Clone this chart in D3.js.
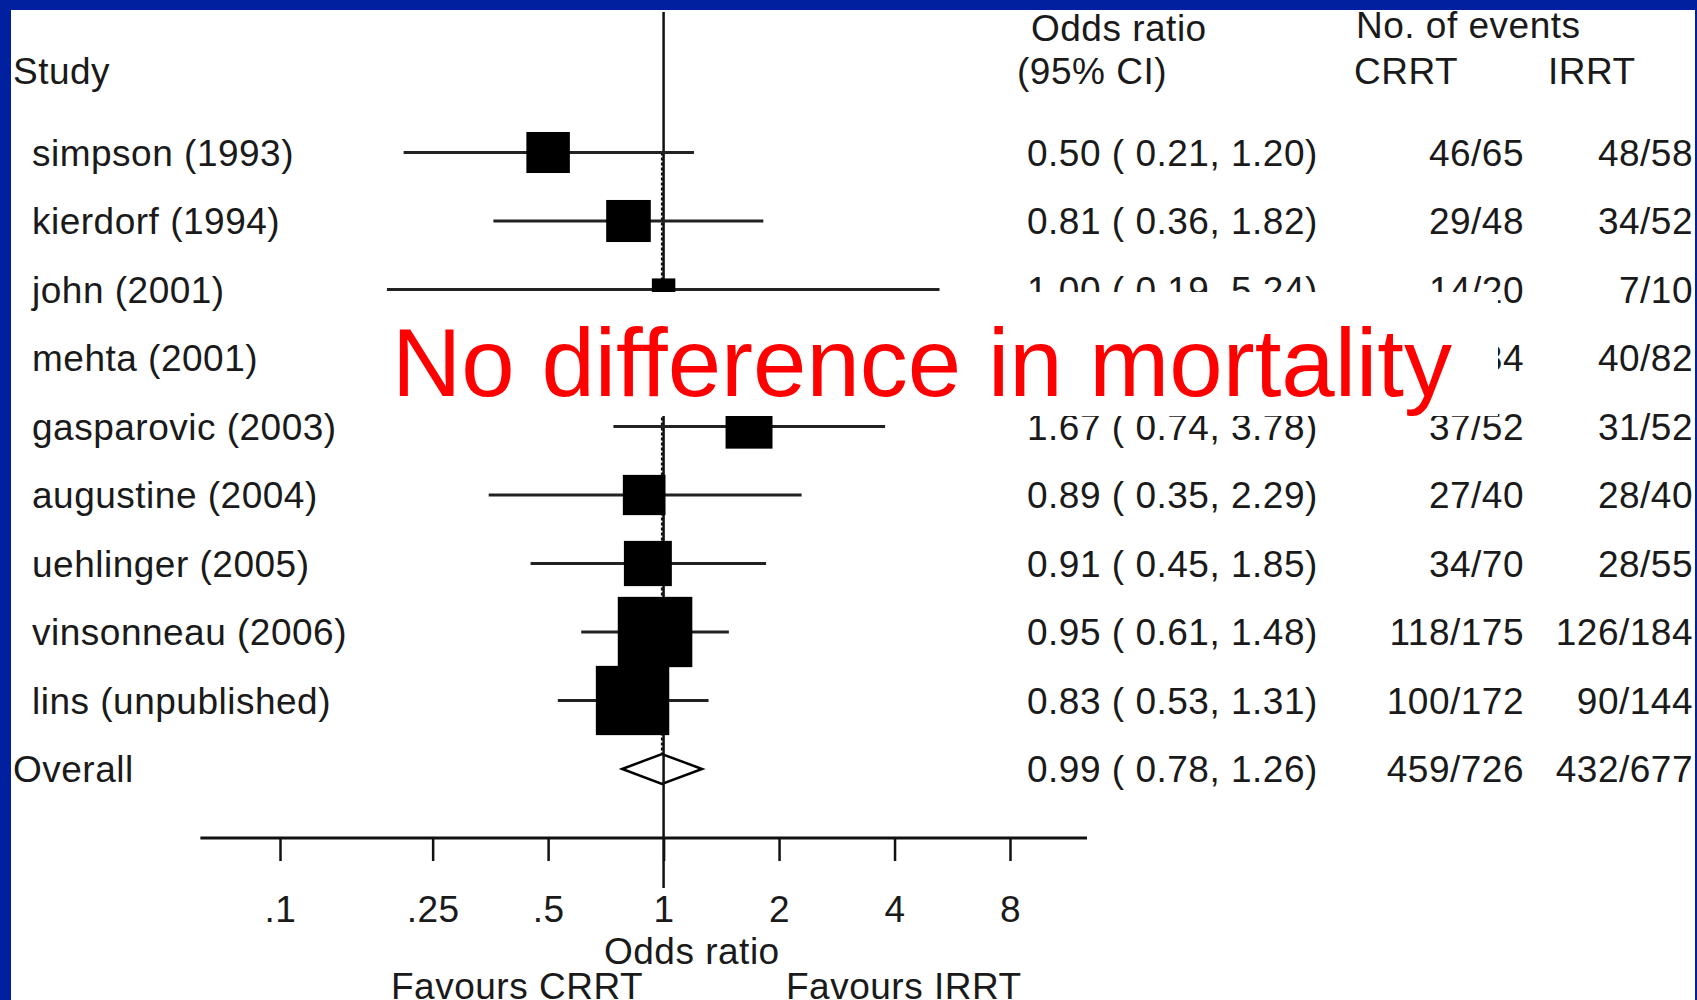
<!DOCTYPE html>
<html>
<head>
<meta charset="utf-8">
<script src="https://cdn.jsdelivr.net/npm/d3@7"></script>
<style>
  body { margin: 0; background: #fff; }
  svg { display: block; }
  text { font-family: "Liberation Sans", Arial, sans-serif; fill: #1a1a1a; letter-spacing: 0.5px; }
</style>
</head>
<body>
<div class="chart"></div>
<script>
const studies = ['simpson (1993)', 'kierdorf (1994)', 'john (2001)', 'mehta (2001)', 'gasparovic (2003)',
  'augustine (2004)', 'uehlinger (2005)', 'vinsonneau (2006)', 'lins (unpublished)'];
const oddsRatio = [0.50, 0.81, 1.00, 1.89, 1.67, 0.89, 0.91, 0.95, 0.83];
const ciLow = [0.21, 0.36, 0.19, 1.01, 0.74, 0.35, 0.45, 0.61, 0.53];
const ciHigh = [1.20, 1.82, 5.24, 3.52, 3.78, 2.29, 1.85, 1.48, 1.31];
const weights = [7.9, 8.3, 2.3, 9.5, 9.2, 7.6, 9.6, 23.2, 22.5];
const crrt = ['46/65', '29/48', '14/20', '54/84', '37/52', '27/40', '34/70', '118/175', '100/172'];
const irrt = ['48/58', '34/52', '7/10', '40/82', '31/52', '28/40', '28/55', '126/184', '90/144'];
const overall = {or: 0.99, lo: 0.78, hi: 1.26, crrt: '459/726', irrt: '432/677'};
const tickValues = [0.1, 0.25, 0.5, 1, 2, 4, 8];
const tickLabels = ['.1', '.25', '.5', '1', '2', '4', '8'];

const w = 1697, h = 1000;
const fs = 37;
const fmt = d3.format('.2f');
const ciText = (o, l, u) => fmt(o) + ' ( ' + fmt(l) + ', ' + fmt(u) + ')';

const xScale = d3.scaleLog().domain([0.1, 8]).range([280, 1010]);
const yScale = d3.scaleLinear().domain([0, studies.length]).range([152.5, 769]);
const size = d3.scaleSqrt().domain([0, 1]).range([0, 14.6]);
const axisY = 838;
const baseOff = 13;
// caption box that hides part of the plot
const cover = {x0: 345, x1: 1498, y0: 292, y1: 416};

const svg = d3.select('div.chart').append('svg')
  .attr('width', w)
  .attr('height', h);

svg.append('rect').attr('width', w).attr('height', h).attr('fill', '#fff');

const rows = studies.map((s, i) => ({
  name: s, or: oddsRatio[i], lo: ciLow[i], hi: ciHigh[i], wt: weights[i], c: crrt[i], r: irrt[i], i: i
}));

// reference line at 1
svg.append('line')
  .attr('x1', xScale(1)).attr('x2', xScale(1))
  .attr('y1', 12).attr('y2', 888)
  .attr('stroke', '#111').attr('stroke-width', 2.5);

// dotted line at overall estimate
svg.append('line')
  .attr('x1', xScale(overall.or)).attr('x2', xScale(overall.or))
  .attr('y1', yScale(0)).attr('y2', yScale(studies.length) - 15)
  .attr('stroke', '#111').attr('stroke-width', 2)
  .attr('stroke-dasharray', '3,2');

// CI lines
svg.selectAll('line.ci')
  .data(rows)
  .enter()
  .append('line')
  .attr('class', 'ci')
  .attr('x1', d => xScale(d.lo))
  .attr('x2', d => xScale(d.hi))
  .attr('y1', d => yScale(d.i))
  .attr('y2', d => yScale(d.i))
  .attr('stroke', '#222')
  .attr('stroke-width', 3);

// weight boxes
svg.selectAll('rect.box')
  .data(rows)
  .enter()
  .append('rect')
  .attr('class', 'box')
  .attr('x', d => xScale(d.or) - size(d.wt) * 1.06 / 2)
  .attr('y', d => yScale(d.i) - size(d.wt) / 2)
  .attr('width', d => size(d.wt) * 1.06)
  .attr('height', d => size(d.wt))
  .attr('fill', '#000');

// overall diamond
const oy = yScale(studies.length);
svg.append('path')
  .attr('d', 'M' + xScale(overall.lo) + ',' + oy +
    'L' + xScale(overall.or) + ',' + (oy - 15) +
    'L' + xScale(overall.hi) + ',' + oy +
    'L' + xScale(overall.or) + ',' + (oy + 15) + 'Z')
  .attr('fill', '#fff')
  .attr('stroke', '#000')
  .attr('stroke-width', 2.5);
svg.append('line')
  .attr('x1', xScale(1)).attr('x2', xScale(1))
  .attr('y1', oy - 15).attr('y2', oy + 15)
  .attr('stroke', '#111').attr('stroke-width', 2.5);

// x axis
const xAxis = d3.axisBottom(xScale)
  .tickValues(tickValues)
  .tickFormat((d, i) => tickLabels[i])
  .tickSize(23);

const gx = svg.append('g')
  .attr('transform', 'translate(0,' + axisY + ')')
  .call(xAxis);
gx.select('.domain').remove();
gx.selectAll('.tick line').attr('stroke', '#111').attr('stroke-width', 2.5);
gx.selectAll('.tick text')
  .attr('y', 84).attr('dy', null)
  .attr('fill', '#1a1a1a')
  .style('font-size', fs + 'px')
  .style('font-family', '"Liberation Sans", Arial, sans-serif');

svg.append('line')
  .attr('x1', xScale(0.062)).attr('x2', xScale(12.7))
  .attr('y1', axisY).attr('y2', axisY)
  .attr('stroke', '#111').attr('stroke-width', 3);

svg.append('text').text('Odds ratio')
  .attr('x', 604).attr('y', 964).style('font-size', fs + 'px');
svg.append('text').text('Favours CRRT')
  .attr('x', 391).attr('y', 999).style('font-size', fs + 'px');
svg.append('text').text('Favours IRRT')
  .attr('x', 786).attr('y', 999).style('font-size', fs + 'px');

// headers
const hdr = [
  ['Study', 13, 84],
  ['Odds ratio', 1031, 41],
  ['(95% CI)', 1017, 84],
  ['No. of events', 1356, 38],
  ['CRRT', 1354, 84],
  ['IRRT', 1548, 84]
];
svg.selectAll('text.hdr')
  .data(hdr)
  .enter()
  .append('text')
  .attr('class', 'hdr')
  .text(d => d[0])
  .attr('x', d => d[1])
  .attr('y', d => d[2])
  .style('font-size', fs + 'px');

// study labels and columns
svg.selectAll('text.name')
  .data(rows)
  .enter()
  .append('text')
  .attr('class', 'name')
  .text(d => d.name)
  .attr('x', 32)
  .attr('y', d => yScale(d.i) + baseOff)
  .style('font-size', fs + 'px');

// estimates fully under the caption box are not shown
svg.selectAll('text.est')
  .data(rows.filter(d => yScale(d.i) - 14 < cover.y0 || yScale(d.i) + 14 > cover.y1))
  .enter()
  .append('text')
  .attr('class', 'est')
  .text(d => ciText(d.or, d.lo, d.hi))
  .attr('x', 1027)
  .attr('y', d => yScale(d.i) + baseOff)
  .style('font-size', fs + 'px');

svg.selectAll('text.crrt')
  .data(rows)
  .enter()
  .append('text')
  .attr('class', 'crrt')
  .text(d => d.c)
  .attr('x', 1524)
  .attr('text-anchor', 'end')
  .attr('y', d => yScale(d.i) + baseOff)
  .style('font-size', fs + 'px');

svg.selectAll('text.irrt')
  .data(rows)
  .enter()
  .append('text')
  .attr('class', 'irrt')
  .text(d => d.r)
  .attr('x', 1693)
  .attr('text-anchor', 'end')
  .attr('y', d => yScale(d.i) + baseOff)
  .style('font-size', fs + 'px');

svg.append('text').text('Overall')
  .attr('x', 13).attr('y', oy + baseOff).style('font-size', fs + 'px');
svg.append('text').text(ciText(overall.or, overall.lo, overall.hi))
  .attr('x', 1027).attr('y', oy + baseOff).style('font-size', fs + 'px');
svg.append('text').text(overall.crrt)
  .attr('x', 1524).attr('y', oy + baseOff).attr('text-anchor', 'end').style('font-size', fs + 'px');
svg.append('text').text(overall.irrt)
  .attr('x', 1693).attr('y', oy + baseOff).attr('text-anchor', 'end').style('font-size', fs + 'px');

// overlay caption
svg.append('rect')
  .attr('x', cover.x0).attr('y', cover.y0)
  .attr('width', cover.x1 - cover.x0).attr('height', cover.y1 - cover.y0)
  .attr('fill', '#fff');
svg.append('text').text('No difference in mortality')
  .attr('x', 392).attr('y', 396)
  .style('font-size', '96px')
  .style('letter-spacing', '0px')
  .style('fill', '#ff0000');

// slide border
svg.append('rect').attr('x', 0).attr('y', 0).attr('width', w).attr('height', 10).attr('fill', '#0020a0');
svg.append('rect').attr('x', 0).attr('y', 0).attr('width', 11).attr('height', h).attr('fill', '#0020a0');
svg.append('rect').attr('x', 1695).attr('y', 0).attr('width', 2).attr('height', h).attr('fill', '#0020a0');
</script>
</body>
</html>
